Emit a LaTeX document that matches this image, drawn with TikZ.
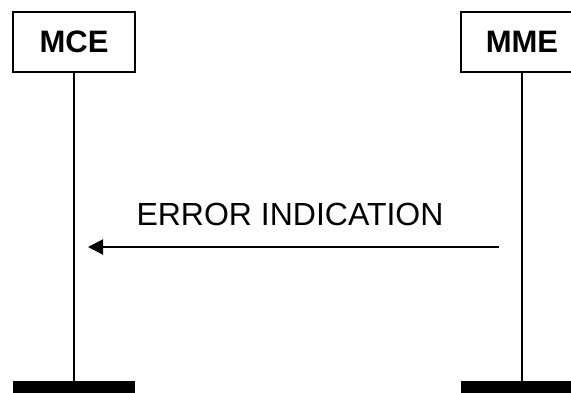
\documentclass[tikz,border=0pt]{standalone}
\usepackage{fontspec}
\setmainfont{Liberation Sans}
\usetikzlibrary{arrows.meta}
\begin{document}
\begin{tikzpicture}[x=1pt,y=-1pt,
  entity/.style={draw,line width=1.5pt,minimum width=122pt,minimum height=60pt,inner sep=0pt,font=\fontsize{31}{31}\selectfont\bfseries},
  life/.style={line width=1.5pt},
  bar/.style={fill=black,draw=none},
  msg/.style={line width=2pt,-{Triangle[length=15pt,width=15pt]}},
  lbl/.style={font=\fontsize{32}{32}\selectfont,inner sep=0pt}]
\useasboundingbox (0,0) rectangle (571,392);
\node[entity] (mce) at (74,42) {MCE};
\node[entity] (mme) at (522,42) {MME};
\coordinate (mceend) at (74,381);
\coordinate (mmeend) at (522,381);
\draw[life] (mce.south) -- (mceend);
\draw[life] (mme.south) -- (mmeend);
\fill[bar] (13,381) rectangle (135,394);
\fill[bar] (461,381) rectangle (583,394);
\coordinate (from) at (499,247);
\coordinate (to) at (88,247);
\draw[msg] (from) -- (to);
\node[lbl,anchor=base] (t) at (290,225) {ERROR INDICATION};
\end{tikzpicture}
\end{document}
